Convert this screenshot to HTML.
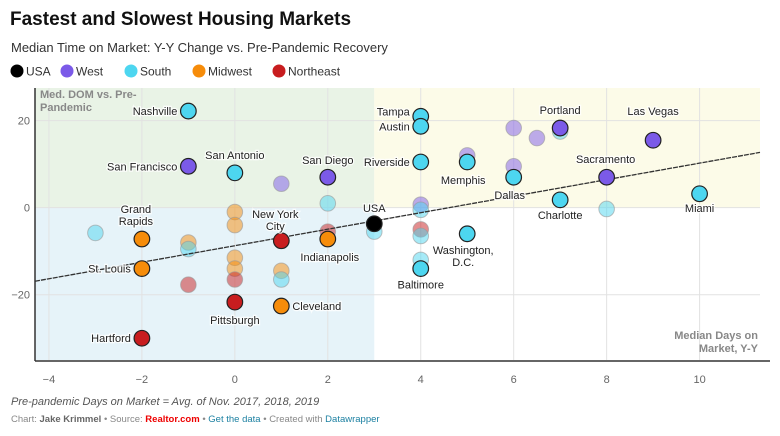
<!DOCTYPE html>
<html><head><meta charset="utf-8"><style>
body{margin:0;background:#fff;font-family:"Liberation Sans",sans-serif;}
svg text{font-family:"Liberation Sans",sans-serif;}
</style></head><body>
<svg width="780" height="431" xmlns="http://www.w3.org/2000/svg" id="chart">
<text x="10" y="25" font-size="19" font-weight="bold" fill="#111">Fastest and Slowest Housing Markets</text>
<text x="11" y="52" font-size="13" fill="#333">Median Time on Market: Y-Y Change vs. Pre-Pandemic Recovery</text>
<g id="legend"></g>
<g id="plot"></g>
<text x="11" y="405" font-size="11" font-style="italic" fill="#555">Pre-pandemic Days on Market = Avg. of Nov. 2017, 2018, 2019</text>
<text x="11" y="422" font-size="9.5" fill="#888">Chart: <tspan font-weight="bold" fill="#666">Jake Krimmel</tspan> • Source: <tspan font-weight="bold" fill="#e00">Realtor.com</tspan> • <tspan fill="#1d81a2">Get the data</tspan> • Created with <tspan fill="#1d81a2">Datawrapper</tspan></text>
</svg>
<script>
const xTicks=[-4,-2,0,2,4,6,8,10];
const yTicks=[-20,0,20];
const regionNames=["USA","West","South","Midwest","Northeast"];
const regionColors=["#000000","#7b5ae8","#4dd6f0","#f68c0a","#c81d1f"];
const cityNames=["Nashville","San Francisco","San Antonio","San Diego","Grand Rapids","St. Louis","New York City","Indianapolis","Pittsburgh","Cleveland","Hartford","USA","Tampa","Austin","Riverside","Memphis","Dallas","Portland","Las Vegas","Sacramento","Charlotte","Miami","Washington, D.C.","Baltimore"];
const cityX=[-1,-1,0,2,-2,-2,1,2,0,1,-2,3,4,4,4,5,6,7,9,8,7,10,5,4];
const cityY=[22.2,9.5,8,7,-7.2,-14,-7.6,-7.2,-21.7,-22.6,-30,-3.7,21,18.7,10.5,10.5,7,18.3,15.5,7,1.8,3.2,-6,-14];
const cityRegion=[2,1,2,1,3,3,4,3,4,3,4,0,2,2,2,2,2,1,1,1,2,2,2,2];
const bgX=[1,2,0,0,-3,-1,-1,2,3,0,0,0,1,1,-1,6,6.5,7,5,6,8,4,4,4,4,4];
const bgY=[5.5,1,-1,-4,-5.8,-8,-9.5,-5.5,-5.5,-11.5,-14,-16.5,-14.5,-16.5,-17.7,18.3,16,17.5,12,9.5,-0.3,0.7,-0.5,-5,-6.5,-12];
const bgRegion=[1,2,3,3,2,3,2,4,2,3,3,4,3,2,4,1,1,2,1,1,2,1,2,4,2,2];
const trendX=[-4.3,11.3];
const trendY=[-16.9,12.7];
const X0=-4.3,X1=11.3,Y0=-35,Y1=27.5,L=35,R=760,T=88,B=360;
const sx=v=>L+(v-X0)/(X1-X0)*(R-L);
const sy=v=>B-(v-Y0)/(Y1-Y0)*(B-T);
const NS="http://www.w3.org/2000/svg";
function mk(tag,attrs,parent,txt){const e=document.createElementNS(NS,tag);for(const k in attrs)e.setAttribute(k,attrs[k]);if(txt!==undefined)e.textContent=txt;parent.appendChild(e);return e;}
const plot=document.getElementById('plot');
const lg=document.getElementById('legend');
let lx=10;const lw=[32,46,50,62,70];
regionNames.forEach((n,i)=>{
 const c=mk('circle',{cx:lx+7,cy:71,r:6.5,fill:regionColors[i]},lg);
 
 
 const t=mk('text',{x:lx+16,y:75.5,'font-size':12,fill:'#333'},lg,n);
 
 
 lx+=lw[i]+18;
});
// quadrant backgrounds
let r=mk('rect',{x:L,y:T,width:sx(3)-L,height:sy(0)-T,fill:'#e9f3e6'},plot);

r=mk('rect',{x:L,y:sy(0),width:sx(3)-L,height:B-sy(0),fill:'#e6f3f9'},plot);

r=mk('rect',{x:sx(3),y:T,width:R-sx(3),height:sy(0)-T,fill:'#fcfbe8'},plot);

xTicks.forEach(v=>{
 const g=mk('line',{x1:sx(v),x2:sx(v),y1:T,y2:B,stroke:'#e2e2e2','stroke-width':1},plot);
 
 const t=mk('text',{x:sx(v),y:383,'font-size':11,fill:'#666','text-anchor':'middle'},plot,(v<0?'−':'')+Math.abs(v));
 
});
yTicks.forEach(v=>{
 const g=mk('line',{x1:L,x2:R,y1:sy(v),y2:sy(v),stroke:'#e2e2e2','stroke-width':1},plot);
 
 const t=mk('text',{x:30,y:sy(v)+4,'font-size':11,fill:'#666','text-anchor':'end'},plot,(v<0?'−':'')+Math.abs(v));
 
});
let ax=mk('line',{x1:L,x2:L,y1:T,y2:B+1,stroke:'#333','stroke-width':1.5},plot);

ax=mk('line',{x1:L,x2:R+10,y1:B+1,y2:B+1,stroke:'#333','stroke-width':1.5},plot);

let at=mk('text',{x:40,y:98,'font-size':11,'font-weight':'bold',fill:'#888'},plot,'Med. DOM vs. Pre-');

at=mk('text',{x:40,y:111,'font-size':11,'font-weight':'bold',fill:'#888'},plot,'Pandemic');

at=mk('text',{x:758,y:339,'font-size':11,'font-weight':'bold',fill:'#888','text-anchor':'end'},plot,'Median Days on');

at=mk('text',{x:758,y:352,'font-size':11,'font-weight':'bold',fill:'#888','text-anchor':'end'},plot,'Market, Y-Y');

bgX.forEach((v,i)=>{
 const c=mk('circle',{cx:sx(v),cy:sy(bgY[i]),r:7.8,fill:regionColors[bgRegion[i]],'fill-opacity':0.5,stroke:'#999','stroke-opacity':0.6,'stroke-width':1},plot);
 
 
});
const tl=mk('line',{x1:sx(trendX[0]),y1:sy(trendY[0]),x2:sx(trendX[1]),y2:sy(trendY[1]),stroke:'#333','stroke-width':1.3,'stroke-dasharray':'5,1'},plot);

// label offsets [dx,dy,anchor]
const lab=[[-11,4,'end'],[-11,4,'end'],[0,-14,'middle'],[0,-13,'middle'],[-6,-26,'middle',1],[-11,4,'end'],[-6,-23,'middle',1],[2,22,'middle'],[0,22,'middle'],[11,4,'start'],[-11,4,'end'],[0,-12,'middle'],[-11,-1,'end'],[-11,4,'end'],[-11,4,'end'],[-4,22,'middle'],[-4,22,'middle'],[0,-14,'middle'],[0,-25,'middle'],[-1,-14,'middle'],[0,19,'middle'],[0,18,'middle'],[-4,20,'middle',1],[0,20,'middle']];
const splits={4:['Grand','Rapids'],6:['New York','City'],22:['Washington,','D.C.']};
cityX.forEach((v,i)=>{
 const cx=sx(v),cy=sy(cityY[i]);
 const c=mk('circle',{cx:cx,cy:cy,r:7.8,fill:regionColors[cityRegion[i]],stroke:'#222','stroke-width':1.2},plot);
 
 
});
cityX.forEach((v,i)=>{
 const cx=sx(v),cy=sy(cityY[i]);const o=lab[i];
 const lines=splits[i]||[cityNames[i]];
 lines.forEach((ln,k)=>{
  const t=mk('text',{x:cx+o[0],y:cy+o[1]+k*12,'font-size':11,fill:'#222','text-anchor':o[2],stroke:'#fff','stroke-width':2.5,'paint-order':'stroke','stroke-opacity':0.8},plot,ln);
  
  
 });
});
</script>
</body></html>
